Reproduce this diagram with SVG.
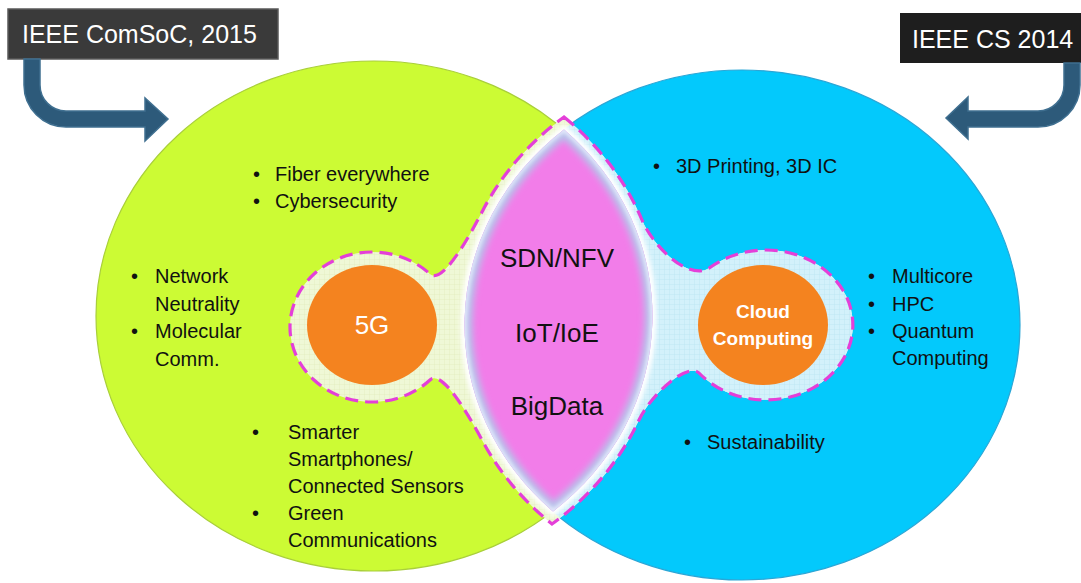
<svg xmlns="http://www.w3.org/2000/svg" width="1081" height="583" viewBox="0 0 1081 583">
<style>
  .box-text{font-family:"Liberation Sans",Arial,sans-serif;font-size:25px;fill:#ffffff}
  .bul{font-family:"Liberation Sans",Arial,sans-serif;font-size:20px;fill:#111111}
  .mid{font-family:"Liberation Sans",Arial,sans-serif;font-size:26px;fill:#111111;text-anchor:middle}
  .arrow{fill:#2d5a7a;stroke:#3f6f90;stroke-width:1.5}
  .dash{fill:none;stroke:#e43fd8;stroke-width:3.2;stroke-dasharray:13 7}
</style>
<defs>
  <pattern id="gridY" width="5" height="5" patternUnits="userSpaceOnUse">
    <rect width="5" height="5" fill="#eff8d6"/>
    <path d="M5 0V5M0 5H5" stroke="#dfedbc" stroke-width="0.7"/>
  </pattern>
  <pattern id="gridB" width="5" height="5" patternUnits="userSpaceOnUse">
    <rect width="5" height="5" fill="#d3f1fb"/>
    <path d="M5 0V5M0 5H5" stroke="#b9e2f2" stroke-width="0.7"/>
  </pattern>
  <clipPath id="clipBlue"><ellipse cx="742" cy="325" rx="278" ry="255"/></clipPath>
  <clipPath id="clipLens"><path d="M564,129.5 A278,255 0 0 1 553,511.5 A278,255 0 0 1 564,129.5 Z"/></clipPath>
  <filter id="blur3" x="-20%" y="-20%" width="140%" height="140%"><feGaussianBlur stdDeviation="3"/></filter>
  <filter id="blur2" x="-20%" y="-20%" width="140%" height="140%"><feGaussianBlur stdDeviation="2"/></filter>
</defs>

<rect width="1081" height="583" fill="#ffffff"/>

<g id="green-set">
  <ellipse cx="374" cy="316" rx="278" ry="255" fill="#ccfb34" stroke="#a9cf3a" stroke-width="1.2"/>
</g>
<g id="blue-set">
  <ellipse cx="742" cy="325" rx="278" ry="255" fill="#03c9fc" stroke="#2ba6d6" stroke-width="1.2"/>
</g>

<g id="overlap-region">
  <path id="blob" d="M564,117 A288,265 0 0 1 642,220 C654,248 690,282 710,267.5 A87,75 0 1 1 699,373 C688,362 652,393 639,420 A288,265 0 0 1 552,524 A288,265 0 0 1 482,440 C468,414 442,369 430,380 A82,75 0 1 1 430,274 C442,285 468,239 482,212 A288,265 0 0 1 564,117 Z" fill="url(#gridY)"/>
  <path d="M564,117 A288,265 0 0 1 642,220 C654,248 690,282 710,267.5 A87,75 0 1 1 699,373 C688,362 652,393 639,420 A288,265 0 0 1 552,524 A288,265 0 0 1 482,440 C468,414 442,369 430,380 A82,75 0 1 1 430,274 C442,285 468,239 482,212 A288,265 0 0 1 564,117 Z" fill="url(#gridB)" clip-path="url(#clipBlue)"/>
  <path d="M564,129.5 A278,255 0 0 1 553,511.5 A278,255 0 0 1 564,129.5 Z" fill="none" stroke="#ffffff" stroke-width="8" filter="url(#blur2)"/>
  <path d="M564,129.5 A278,255 0 0 1 553,511.5 A278,255 0 0 1 564,129.5 Z" fill="#f27de9"/>
  <g clip-path="url(#clipLens)">
    <path d="M564,129.5 A278,255 0 0 1 553,511.5 A278,255 0 0 1 564,129.5 Z" fill="none" stroke="#b8c1ea" stroke-width="16" filter="url(#blur3)"/>
    <path d="M564,129.5 A278,255 0 0 1 553,511.5 A278,255 0 0 1 564,129.5 Z" fill="none" stroke="#eef2ff" stroke-width="4" filter="url(#blur2)"/>
  </g>
  <path class="dash" d="M564,117 A288,265 0 0 1 642,220 C654,248 690,282 710,267.5 A87,75 0 1 1 699,373 C688,362 652,393 639,420 A288,265 0 0 1 552,524 A288,265 0 0 1 482,440 C468,414 442,369 430,380 A82,75 0 1 1 430,274 C442,285 468,239 482,212 A288,265 0 0 1 564,117 Z"/>
  <text class="mid" x="557" y="267">SDN/NFV</text>
  <text class="mid" x="557" y="342">IoT/IoE</text>
  <text class="mid" x="557" y="415">BigData</text>
</g>

<g id="node-5g">
  <ellipse cx="372" cy="325" rx="65" ry="60" fill="#f4831f"/>
  <text x="372" y="334" font-family="Liberation Sans, Arial, sans-serif" font-size="26" fill="#ffffff" text-anchor="middle">5G</text>
</g>

<g id="node-cloud">
  <ellipse cx="763" cy="325" rx="65" ry="60" fill="#f4831f"/>
  <text x="763" y="318" font-family="Liberation Sans, Arial, sans-serif" font-size="19" font-weight="bold" fill="#ffffff" text-anchor="middle">Cloud</text>
  <text x="763" y="345" font-family="Liberation Sans, Arial, sans-serif" font-size="19" font-weight="bold" fill="#ffffff" text-anchor="middle">Computing</text>
</g>

<g id="green-items">
  <text class="bul" x="253" y="181">•</text><text class="bul" x="275" y="181">Fiber everywhere</text>
  <text class="bul" x="253" y="208">•</text><text class="bul" x="275" y="208">Cybersecurity</text>
  <text class="bul" x="131" y="283">•</text><text class="bul" x="155" y="283">Network</text>
  <text class="bul" x="155" y="311">Neutrality</text>
  <text class="bul" x="131" y="338">•</text><text class="bul" x="155" y="338">Molecular</text>
  <text class="bul" x="155" y="366">Comm.</text>
  <text class="bul" x="252" y="439">•</text><text class="bul" x="288" y="439">Smarter</text>
  <text class="bul" x="288" y="466">Smartphones/</text>
  <text class="bul" x="288" y="493">Connected Sensors</text>
  <text class="bul" x="252" y="520">•</text><text class="bul" x="288" y="520">Green</text>
  <text class="bul" x="288" y="547">Communications</text>
</g>

<g id="blue-items">
  <text class="bul" x="653" y="173">•</text><text class="bul" x="676" y="173">3D Printing, 3D IC</text>
  <text class="bul" x="868" y="283">•</text><text class="bul" x="892" y="283">Multicore</text>
  <text class="bul" x="868" y="311">•</text><text class="bul" x="892" y="311">HPC</text>
  <text class="bul" x="868" y="338">•</text><text class="bul" x="892" y="338">Quantum</text>
  <text class="bul" x="892" y="365">Computing</text>
  <text class="bul" x="684" y="449">•</text><text class="bul" x="707" y="449">Sustainability</text>
</g>

<g id="label-comsoc">
  <rect x="8" y="9" width="270" height="50" fill="#3a3a3a" stroke="#5a5a5a" stroke-width="1.5"/>
  <text class="box-text" x="22" y="43">IEEE ComSoC, 2015</text>
</g>
<g id="label-cs">
  <rect x="900" y="13" width="181" height="50" fill="#1e1e1e"/>
  <text class="box-text" x="912" y="48">IEEE CS 2014</text>
</g>

<g id="connectors">
  <path class="arrow" d="M24,59 L40,59 L40,85 A26,26 0 0 0 66,111 L145,111 L145,98 L168,119 L145,141 L145,127 L66,127 A42,42 0 0 1 24,85 Z"/>
  <path class="arrow" d="M1064,63 L1080,63 L1080,85 A42,42 0 0 1 1038,127 L968,127 L968,139 L946,118 L968,97 L968,111 L1038,111 A26,26 0 0 0 1064,85 Z"/>
</g>
</svg>
